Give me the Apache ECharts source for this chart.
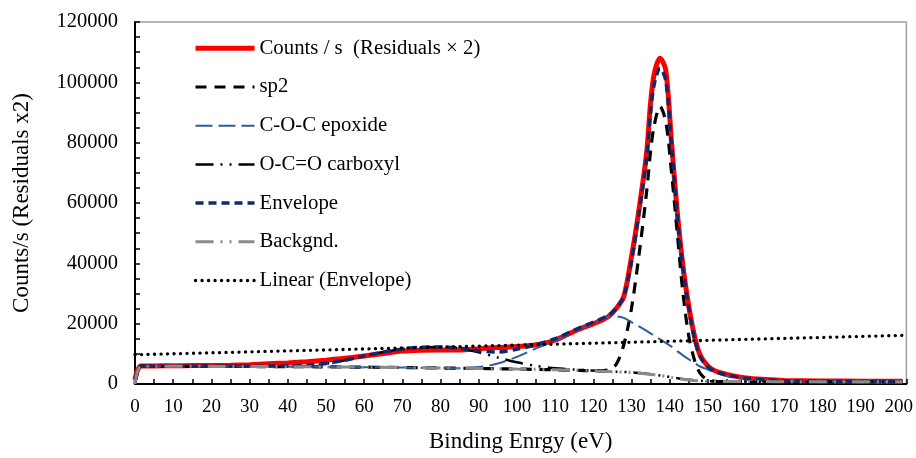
<!DOCTYPE html>
<html>
<head>
<meta charset="utf-8">
<script src="https://cdn.jsdelivr.net/npm/echarts@6/dist/echarts.min.js"></script>
<style>
  html, body { margin: 0; padding: 0; background: #fff; }
  #chart { width: 916px; height: 458px; }
</style>
</head>
<body>
<div id="chart"></div>
<script>
// Binding energy sample points (eV)
const energy = [0, 1.5, 5, 10, 15, 20, 25, 30, 35, 40, 45, 50, 55, 60, 65, 70, 75, 80, 85, 90, 95, 100, 105, 110, 115, 118, 121, 124, 126, 128, 130, 132, 134, 135, 136, 137.5, 139, 140.5, 142, 143.5, 145, 146.5, 148, 150, 152, 155, 160, 165, 170, 180, 190, 201];

// Measured counts per second
const counts = [1500, 6000, 6000, 6050, 6100, 6100, 6200, 6400, 6700, 7000, 7400, 7900, 8500, 9300, 10100, 10900, 11200, 11300, 11300, 11700, 12100, 12400, 13000, 14500, 17500, 19000, 20500, 22400, 25000, 29000, 42000, 58000, 77000, 93000, 103000, 108000, 104000, 80000, 57000, 39000, 26000, 16000, 9500, 6000, 4300, 3200, 2000, 1500, 1200, 1000, 950, 900];

// Fitted components (each sits on the background)
const sp2 = [0, 5900, 5900, 5880, 5860, 5840, 5820, 5800, 5780, 5750, 5720, 5680, 5630, 5580, 5520, 5450, 5380, 5300, 5230, 5150, 5050, 4950, 4850, 4700, 4550, 4450, 4350, 4700, 6500, 13000, 25000, 43000, 64000, 77000, 86000, 92000, 87000, 70000, 50000, 30000, 16000, 8000, 3500, 1300, 900, 820, 800, 790, 780, 780, 780, 780];

const epoxide = [0, 5900, 5900, 5880, 5860, 5840, 5820, 5800, 5780, 5750, 5720, 5680, 5630, 5580, 5520, 5450, 5380, 5300, 5230, 5600, 6800, 9000, 11800, 14300, 17200, 19000, 20800, 22200, 22400, 21900, 20500, 19100, 17600, 16800, 16000, 14800, 13600, 12400, 10900, 9500, 8200, 7000, 5800, 4800, 3800, 2600, 1500, 1100, 900, 800, 780, 780];

const carboxyl = [0, 5900, 5900, 5880, 5860, 5840, 5820, 5800, 5780, 5750, 5900, 6700, 7900, 9300, 10600, 11600, 12200, 12300, 11850, 10500, 8800, 7200, 6000, 5200, 4800, 4600, 4400, 4200, 4100, 4000, 3850, 3650, 3400, 3250, 3100, 2850, 2600, 2250, 1950, 1650, 1400, 1200, 1050, 950, 880, 830, 800, 790, 780, 780, 780, 780];

const envelope = [1000, 5900, 5900, 5900, 5900, 5900, 5900, 5900, 5950, 6000, 6200, 6800, 7900, 9300, 10600, 11600, 12200, 12300, 11900, 11000, 10600, 11500, 13000, 15000, 17800, 19500, 21000, 22800, 25000, 29000, 40500, 57000, 75000, 90000, 99500, 104700, 100500, 79000, 56000, 38000, 25000, 15000, 9000, 5700, 4100, 3000, 1900, 1400, 1100, 950, 900, 850];

const backgnd = [0, 5900, 5900, 5880, 5860, 5840, 5820, 5800, 5780, 5750, 5720, 5680, 5630, 5580, 5520, 5450, 5380, 5300, 5230, 5150, 5050, 4950, 4850, 4700, 4550, 4450, 4300, 4150, 4050, 3950, 3800, 3600, 3350, 3200, 3050, 2800, 2550, 2200, 1900, 1600, 1350, 1150, 1000, 900, 850, 820, 800, 790, 780, 780, 780, 780];

// Linear trend of the envelope (end points)
const trendEnergy = [0, 202];
const trendValue = [9700, 16150];

const pairs = (xs, ys) => xs.map((x, i) => [x, ys[i]]);

const serif = '"Liberation Serif", "Times New Roman", serif';

const chart = echarts.init(document.getElementById('chart'), null, { renderer: 'canvas' });

function lineSeries(name, data, style, smooth) {
  return {
    name: name,
    type: 'line',
    data: data,
    showSymbol: false,
    symbol: 'none',
    smooth: smooth,
    lineStyle: style,
    itemStyle: { color: style.color, opacity: 0 },
    emphasis: { disabled: true },
    animation: false
  };
}

chart.setOption({
  animation: false,
  backgroundColor: '#ffffff',
  grid: {
    left: 135, right: 7.5, top: 22, bottom: 73.5,
    show: true, borderColor: '#a0a0a0', borderWidth: 1.5, backgroundColor: 'transparent'
  },
  legend: {
    orient: 'vertical',
    left: 193,
    top: 37.8,
    padding: 0,
    itemWidth: 59,
    itemHeight: 14,
    itemGap: 17.7,
    itemStyle: { opacity: 0 },
    lineStyle: { width: 'inherit' },
    textStyle: { fontFamily: serif, fontSize: 20.8, color: '#000', lineHeight: 20.2 },
    data: ['Counts / s  (Residuals \u00d7 2)', 'sp2', 'C-O-C epoxide', 'O-C=O carboxyl', 'Envelope', 'Backgnd.', 'Linear (Envelope)']
  },
  xAxis: {
    type: 'value',
    min: 0, max: 202, interval: 5,
    name: 'Binding Enrgy (eV)',
    nameLocation: 'middle',
    nameGap: 46,
    nameTextStyle: { fontFamily: serif, fontSize: 23, color: '#000' },
    axisLine: { show: true, onZero: false, lineStyle: { color: '#000', width: 2 } },
    axisTick: { show: true, inside: true, length: 5, lineStyle: { color: '#000', width: 1.5 } },
    axisLabel: {
      fontFamily: serif, fontSize: 19, color: '#000', margin: 14,
      formatter: v => (v % 10 === 0 && v <= 200) ? String(v) : ''
    },
    splitLine: { show: false }
  },
  yAxis: {
    type: 'value',
    min: 0, max: 120000, interval: 5000,
    name: 'Counts/s (Residuals x2)',
    nameLocation: 'middle',
    nameGap: 102,
    nameTextStyle: { fontFamily: serif, fontSize: 23, color: '#000' },
    axisLine: { show: true, onZero: false, lineStyle: { color: '#000', width: 2 } },
    axisTick: { show: true, inside: true, length: 5, lineStyle: { color: '#000', width: 1.5 } },
    axisLabel: {
      fontFamily: serif, fontSize: 20.5, color: '#000', margin: 17,
      formatter: v => (v % 20000 === 0) ? String(v) : ''
    },
    splitLine: { show: false }
  },
  series: [
    lineSeries('Counts / s  (Residuals \u00d7 2)', pairs(energy, counts),
      { color: '#ff0000', width: 5 }, 0.3),
    lineSeries('sp2', pairs(energy, sp2),
      { color: '#000000', width: 3.2, type: [11, 8] }, 0.3),
    lineSeries('C-O-C epoxide', pairs(energy, epoxide),
      { color: '#2f5d9b', width: 2, type: [17, 6] }, 0.3),
    lineSeries('O-C=O carboxyl', pairs(energy, carboxyl),
      { color: '#000000', width: 2.5, type: [18, 7, 2, 7, 2, 7] }, 0.3),
    lineSeries('Envelope', pairs(energy, envelope),
      { color: '#13286a', width: 3.5, type: [8, 5] }, 0.3),
    lineSeries('Backgnd.', pairs(energy, backgnd),
      { color: '#8a8a8a', width: 3, type: [18, 7, 2, 7, 2, 7] }, 0.3),
    lineSeries('Linear (Envelope)', pairs(trendEnergy, trendValue),
      { color: '#000000', width: 3.3, type: [0.1, 6.4], cap: 'round' }, false)
  ]
});
</script>
</body>
</html>
